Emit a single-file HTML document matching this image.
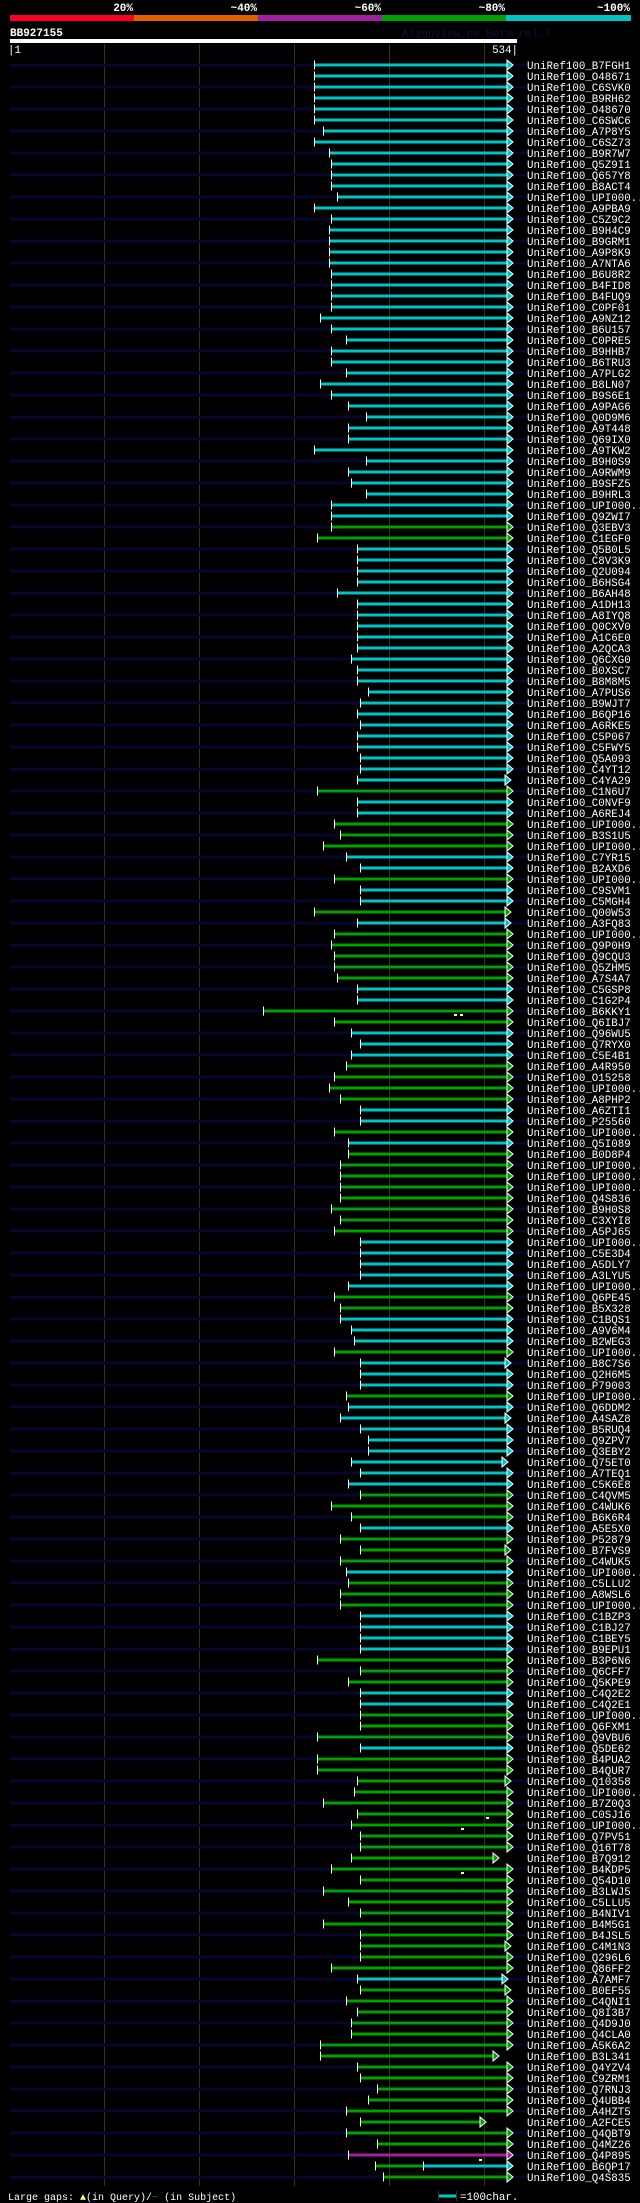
<!DOCTYPE html>
<html><head><meta charset="utf-8"><style>
html,body{margin:0;padding:0;background:#000;}
svg{display:block}
text{font-family:"Liberation Mono",monospace;font-size:10.8px;fill:#fff}
.b{font-family:"Liberation Mono",monospace;font-weight:bold;font-size:11px}
line.n{stroke:#06062e;stroke-width:3}
line.c{stroke:#00c4c4;stroke-width:3}
line.g{stroke:#00a000;stroke-width:3}
line.m{stroke:#a020a0;stroke-width:3}
line.t{stroke:#fff;stroke-width:1}
use.c{fill:#00c4c4} use.g{fill:#00a000} use.m{fill:#a020a0}
.gr{stroke:#363610;stroke-width:1}
</style></head><body>
<svg width="640" height="2203" viewBox="0 0 640 2203" xmlns="http://www.w3.org/2000/svg">
<defs><polygon id="a" points="0,-5 6,0 0,5" stroke="#fff" stroke-width="1"/></defs>
<rect width="640" height="2203" fill="#000"/>
<text class="b" x="133" y="11" text-anchor="end">20%</text>
<text class="b" x="257" y="11" text-anchor="end">~40%</text>
<text class="b" x="381" y="11" text-anchor="end">~60%</text>
<text class="b" x="505" y="11" text-anchor="end">~80%</text>
<text class="b" x="630" y="11" text-anchor="end">~100%</text>
<rect x="10" y="15" width="124" height="6" fill="#ff0020"/>
<rect x="134" y="15" width="124" height="6" fill="#e06000"/>
<rect x="258" y="15" width="124" height="6" fill="#a020a0"/>
<rect x="382" y="15" width="124" height="6" fill="#00a000"/>
<rect x="506" y="15" width="125" height="6" fill="#00c4c4"/>
<text class="b" x="10" y="36">BB927155</text>
<text x="402" y="37" style="fill:#101040">AlignView.pm Beta rel.7</text>
<rect x="10" y="39" width="507" height="4" fill="#fff"/>
<text x="8" y="53">|1</text>
<text x="518" y="53" text-anchor="end">534|</text>
<line class="gr" x1="104.5" y1="44" x2="104.5" y2="2186"/>
<line class="gr" x1="199.5" y1="44" x2="199.5" y2="2186"/>
<line class="gr" x1="294.5" y1="44" x2="294.5" y2="2186"/>
<line class="gr" x1="389.5" y1="44" x2="389.5" y2="2186"/>
<line class="gr" x1="484.5" y1="44" x2="484.5" y2="2186"/>
<g transform="translate(0,65)"><line class="n" x1="10" x2="527"/><line class="c" x1="314.3" x2="507"/><line class="t" x1="314.5" x2="314.5" y1="-4.5" y2="4.5"/><use href="#a" x="507" class="c"/><text x="527" y="4">UniRef100_B7FGH1</text></g>
<g transform="translate(0,76)"><line class="c" x1="314.3" x2="507"/><line class="t" x1="314.5" x2="314.5" y1="-4.5" y2="4.5"/><use href="#a" x="507" class="c"/><text x="527" y="4">UniRef100_O48671</text></g>
<g transform="translate(0,87)"><line class="n" x1="10" x2="527"/><line class="c" x1="314.3" x2="507"/><line class="t" x1="314.5" x2="314.5" y1="-4.5" y2="4.5"/><use href="#a" x="507" class="c"/><text x="527" y="4">UniRef100_C6SVK0</text></g>
<g transform="translate(0,98)"><line class="c" x1="314.3" x2="507"/><line class="t" x1="314.5" x2="314.5" y1="-4.5" y2="4.5"/><use href="#a" x="507" class="c"/><text x="527" y="4">UniRef100_B9RH62</text></g>
<g transform="translate(0,109)"><line class="n" x1="10" x2="527"/><line class="c" x1="314.3" x2="507"/><line class="t" x1="314.5" x2="314.5" y1="-4.5" y2="4.5"/><use href="#a" x="507" class="c"/><text x="527" y="4">UniRef100_O48670</text></g>
<g transform="translate(0,120)"><line class="c" x1="314.3" x2="507"/><line class="t" x1="314.5" x2="314.5" y1="-4.5" y2="4.5"/><use href="#a" x="507" class="c"/><text x="527" y="4">UniRef100_C6SWC6</text></g>
<g transform="translate(0,131)"><line class="n" x1="10" x2="527"/><line class="c" x1="323.3" x2="507"/><line class="t" x1="323.5" x2="323.5" y1="-4.5" y2="4.5"/><use href="#a" x="507" class="c"/><text x="527" y="4">UniRef100_A7P8Y5</text></g>
<g transform="translate(0,142)"><line class="c" x1="314.3" x2="507"/><line class="t" x1="314.5" x2="314.5" y1="-4.5" y2="4.5"/><use href="#a" x="507" class="c"/><text x="527" y="4">UniRef100_C6SZ73</text></g>
<g transform="translate(0,153)"><line class="n" x1="10" x2="527"/><line class="c" x1="329.3" x2="507"/><line class="t" x1="329.5" x2="329.5" y1="-4.5" y2="4.5"/><use href="#a" x="507" class="c"/><text x="527" y="4">UniRef100_B9R7W7</text></g>
<g transform="translate(0,164)"><line class="c" x1="331.3" x2="507"/><line class="t" x1="331.5" x2="331.5" y1="-4.5" y2="4.5"/><use href="#a" x="507" class="c"/><text x="527" y="4">UniRef100_Q5Z9I1</text></g>
<g transform="translate(0,175)"><line class="n" x1="10" x2="527"/><line class="c" x1="331.3" x2="507"/><line class="t" x1="331.5" x2="331.5" y1="-4.5" y2="4.5"/><use href="#a" x="507" class="c"/><text x="527" y="4">UniRef100_Q657Y8</text></g>
<g transform="translate(0,186)"><line class="c" x1="331.3" x2="507"/><line class="t" x1="331.5" x2="331.5" y1="-4.5" y2="4.5"/><use href="#a" x="507" class="c"/><text x="527" y="4">UniRef100_B8ACT4</text></g>
<g transform="translate(0,197)"><line class="n" x1="10" x2="527"/><line class="c" x1="337.3" x2="507"/><line class="t" x1="337.5" x2="337.5" y1="-4.5" y2="4.5"/><use href="#a" x="507" class="c"/><text x="527" y="4">UniRef100_UPI000..</text></g>
<g transform="translate(0,208)"><line class="c" x1="314.3" x2="507"/><line class="t" x1="314.5" x2="314.5" y1="-4.5" y2="4.5"/><use href="#a" x="507" class="c"/><text x="527" y="4">UniRef100_A9PBA9</text></g>
<g transform="translate(0,219)"><line class="n" x1="10" x2="527"/><line class="c" x1="331.3" x2="507"/><line class="t" x1="331.5" x2="331.5" y1="-4.5" y2="4.5"/><use href="#a" x="507" class="c"/><text x="527" y="4">UniRef100_C5Z9C2</text></g>
<g transform="translate(0,230)"><line class="c" x1="329.3" x2="507"/><line class="t" x1="329.5" x2="329.5" y1="-4.5" y2="4.5"/><use href="#a" x="507" class="c"/><text x="527" y="4">UniRef100_B9H4C9</text></g>
<g transform="translate(0,241)"><line class="n" x1="10" x2="527"/><line class="c" x1="329.3" x2="507"/><line class="t" x1="329.5" x2="329.5" y1="-4.5" y2="4.5"/><use href="#a" x="507" class="c"/><text x="527" y="4">UniRef100_B9GRM1</text></g>
<g transform="translate(0,252)"><line class="c" x1="329.3" x2="507"/><line class="t" x1="329.5" x2="329.5" y1="-4.5" y2="4.5"/><use href="#a" x="507" class="c"/><text x="527" y="4">UniRef100_A9P8K9</text></g>
<g transform="translate(0,263)"><line class="n" x1="10" x2="527"/><line class="c" x1="329.3" x2="507"/><line class="t" x1="329.5" x2="329.5" y1="-4.5" y2="4.5"/><use href="#a" x="507" class="c"/><text x="527" y="4">UniRef100_A7NTA6</text></g>
<g transform="translate(0,274)"><line class="c" x1="331.3" x2="507"/><line class="t" x1="331.5" x2="331.5" y1="-4.5" y2="4.5"/><use href="#a" x="507" class="c"/><text x="527" y="4">UniRef100_B6U8R2</text></g>
<g transform="translate(0,285)"><line class="n" x1="10" x2="527"/><line class="c" x1="331.3" x2="507"/><line class="t" x1="331.5" x2="331.5" y1="-4.5" y2="4.5"/><use href="#a" x="507" class="c"/><text x="527" y="4">UniRef100_B4FID8</text></g>
<g transform="translate(0,296)"><line class="c" x1="331.3" x2="507"/><line class="t" x1="331.5" x2="331.5" y1="-4.5" y2="4.5"/><use href="#a" x="507" class="c"/><text x="527" y="4">UniRef100_B4FUQ9</text></g>
<g transform="translate(0,307)"><line class="n" x1="10" x2="527"/><line class="c" x1="331.3" x2="507"/><line class="t" x1="331.5" x2="331.5" y1="-4.5" y2="4.5"/><use href="#a" x="507" class="c"/><text x="527" y="4">UniRef100_C0PF01</text></g>
<g transform="translate(0,318)"><line class="c" x1="320.3" x2="507"/><line class="t" x1="320.5" x2="320.5" y1="-4.5" y2="4.5"/><use href="#a" x="507" class="c"/><text x="527" y="4">UniRef100_A9NZ12</text></g>
<g transform="translate(0,329)"><line class="n" x1="10" x2="527"/><line class="c" x1="331.3" x2="507"/><line class="t" x1="331.5" x2="331.5" y1="-4.5" y2="4.5"/><use href="#a" x="507" class="c"/><text x="527" y="4">UniRef100_B6U157</text></g>
<g transform="translate(0,340)"><line class="c" x1="346.3" x2="507"/><line class="t" x1="346.5" x2="346.5" y1="-4.5" y2="4.5"/><use href="#a" x="507" class="c"/><text x="527" y="4">UniRef100_C0PRE5</text></g>
<g transform="translate(0,351)"><line class="n" x1="10" x2="527"/><line class="c" x1="331.3" x2="507"/><line class="t" x1="331.5" x2="331.5" y1="-4.5" y2="4.5"/><use href="#a" x="507" class="c"/><text x="527" y="4">UniRef100_B9HHB7</text></g>
<g transform="translate(0,362)"><line class="c" x1="331.3" x2="507"/><line class="t" x1="331.5" x2="331.5" y1="-4.5" y2="4.5"/><use href="#a" x="507" class="c"/><text x="527" y="4">UniRef100_B6TRU3</text></g>
<g transform="translate(0,373)"><line class="n" x1="10" x2="527"/><line class="c" x1="346.3" x2="507"/><line class="t" x1="346.5" x2="346.5" y1="-4.5" y2="4.5"/><use href="#a" x="507" class="c"/><text x="527" y="4">UniRef100_A7PLG2</text></g>
<g transform="translate(0,384)"><line class="c" x1="320.3" x2="507"/><line class="t" x1="320.5" x2="320.5" y1="-4.5" y2="4.5"/><use href="#a" x="507" class="c"/><text x="527" y="4">UniRef100_B8LN07</text></g>
<g transform="translate(0,395)"><line class="n" x1="10" x2="527"/><line class="c" x1="331.3" x2="507"/><line class="t" x1="331.5" x2="331.5" y1="-4.5" y2="4.5"/><use href="#a" x="507" class="c"/><text x="527" y="4">UniRef100_B9S6E1</text></g>
<g transform="translate(0,406)"><line class="c" x1="348.3" x2="507"/><line class="t" x1="348.5" x2="348.5" y1="-4.5" y2="4.5"/><use href="#a" x="507" class="c"/><text x="527" y="4">UniRef100_A9PAG6</text></g>
<g transform="translate(0,417)"><line class="n" x1="10" x2="527"/><line class="c" x1="366.3" x2="507"/><line class="t" x1="366.5" x2="366.5" y1="-4.5" y2="4.5"/><use href="#a" x="507" class="c"/><text x="527" y="4">UniRef100_Q0D9M6</text></g>
<g transform="translate(0,428)"><line class="c" x1="348.3" x2="507"/><line class="t" x1="348.5" x2="348.5" y1="-4.5" y2="4.5"/><use href="#a" x="507" class="c"/><text x="527" y="4">UniRef100_A9T448</text></g>
<g transform="translate(0,439)"><line class="n" x1="10" x2="527"/><line class="c" x1="348.3" x2="507"/><line class="t" x1="348.5" x2="348.5" y1="-4.5" y2="4.5"/><use href="#a" x="507" class="c"/><text x="527" y="4">UniRef100_Q69IX0</text></g>
<g transform="translate(0,450)"><line class="c" x1="314.3" x2="507"/><line class="t" x1="314.5" x2="314.5" y1="-4.5" y2="4.5"/><use href="#a" x="507" class="c"/><text x="527" y="4">UniRef100_A9TKW2</text></g>
<g transform="translate(0,461)"><line class="n" x1="10" x2="527"/><line class="c" x1="366.3" x2="507"/><line class="t" x1="366.5" x2="366.5" y1="-4.5" y2="4.5"/><use href="#a" x="507" class="c"/><text x="527" y="4">UniRef100_B9H0S9</text></g>
<g transform="translate(0,472)"><line class="c" x1="348.3" x2="507"/><line class="t" x1="348.5" x2="348.5" y1="-4.5" y2="4.5"/><use href="#a" x="507" class="c"/><text x="527" y="4">UniRef100_A9RWM9</text></g>
<g transform="translate(0,483)"><line class="n" x1="10" x2="527"/><line class="c" x1="351.3" x2="507"/><line class="t" x1="351.5" x2="351.5" y1="-4.5" y2="4.5"/><use href="#a" x="507" class="c"/><text x="527" y="4">UniRef100_B9SFZ5</text></g>
<g transform="translate(0,494)"><line class="c" x1="366.3" x2="507"/><line class="t" x1="366.5" x2="366.5" y1="-4.5" y2="4.5"/><use href="#a" x="507" class="c"/><text x="527" y="4">UniRef100_B9HRL3</text></g>
<g transform="translate(0,505)"><line class="n" x1="10" x2="527"/><line class="c" x1="331.3" x2="507"/><line class="t" x1="331.5" x2="331.5" y1="-4.5" y2="4.5"/><use href="#a" x="507" class="c"/><text x="527" y="4">UniRef100_UPI000..</text></g>
<g transform="translate(0,516)"><line class="c" x1="331.3" x2="507"/><line class="t" x1="331.5" x2="331.5" y1="-4.5" y2="4.5"/><use href="#a" x="507" class="c"/><text x="527" y="4">UniRef100_Q9ZWI7</text></g>
<g transform="translate(0,527)"><line class="n" x1="10" x2="527"/><line class="g" x1="331.3" x2="507"/><line class="t" x1="331.5" x2="331.5" y1="-4.5" y2="4.5"/><use href="#a" x="507" class="g"/><text x="527" y="4">UniRef100_Q3EBV3</text></g>
<g transform="translate(0,538)"><line class="g" x1="317.3" x2="507"/><line class="t" x1="317.5" x2="317.5" y1="-4.5" y2="4.5"/><use href="#a" x="507" class="g"/><text x="527" y="4">UniRef100_C1EGF0</text></g>
<g transform="translate(0,549)"><line class="n" x1="10" x2="527"/><line class="c" x1="357.3" x2="507"/><line class="t" x1="357.5" x2="357.5" y1="-4.5" y2="4.5"/><use href="#a" x="507" class="c"/><text x="527" y="4">UniRef100_Q5B0L5</text></g>
<g transform="translate(0,560)"><line class="c" x1="357.3" x2="507"/><line class="t" x1="357.5" x2="357.5" y1="-4.5" y2="4.5"/><use href="#a" x="507" class="c"/><text x="527" y="4">UniRef100_C8V3K9</text></g>
<g transform="translate(0,571)"><line class="n" x1="10" x2="527"/><line class="c" x1="357.3" x2="507"/><line class="t" x1="357.5" x2="357.5" y1="-4.5" y2="4.5"/><use href="#a" x="507" class="c"/><text x="527" y="4">UniRef100_Q2U094</text></g>
<g transform="translate(0,582)"><line class="c" x1="357.3" x2="507"/><line class="t" x1="357.5" x2="357.5" y1="-4.5" y2="4.5"/><use href="#a" x="507" class="c"/><text x="527" y="4">UniRef100_B6HSG4</text></g>
<g transform="translate(0,593)"><line class="n" x1="10" x2="527"/><line class="c" x1="337.3" x2="507"/><line class="t" x1="337.5" x2="337.5" y1="-4.5" y2="4.5"/><use href="#a" x="507" class="c"/><text x="527" y="4">UniRef100_B6AH48</text></g>
<g transform="translate(0,604)"><line class="c" x1="357.3" x2="507"/><line class="t" x1="357.5" x2="357.5" y1="-4.5" y2="4.5"/><use href="#a" x="507" class="c"/><text x="527" y="4">UniRef100_A1DH13</text></g>
<g transform="translate(0,615)"><line class="n" x1="10" x2="527"/><line class="c" x1="357.3" x2="507"/><line class="t" x1="357.5" x2="357.5" y1="-4.5" y2="4.5"/><use href="#a" x="507" class="c"/><text x="527" y="4">UniRef100_A8IYQ8</text></g>
<g transform="translate(0,626)"><line class="c" x1="357.3" x2="507"/><line class="t" x1="357.5" x2="357.5" y1="-4.5" y2="4.5"/><use href="#a" x="507" class="c"/><text x="527" y="4">UniRef100_Q0CXV0</text></g>
<g transform="translate(0,637)"><line class="n" x1="10" x2="527"/><line class="c" x1="357.3" x2="507"/><line class="t" x1="357.5" x2="357.5" y1="-4.5" y2="4.5"/><use href="#a" x="507" class="c"/><text x="527" y="4">UniRef100_A1C6E0</text></g>
<g transform="translate(0,648)"><line class="c" x1="357.3" x2="507"/><line class="t" x1="357.5" x2="357.5" y1="-4.5" y2="4.5"/><use href="#a" x="507" class="c"/><text x="527" y="4">UniRef100_A2QCA3</text></g>
<g transform="translate(0,659)"><line class="n" x1="10" x2="527"/><line class="c" x1="351.3" x2="507"/><line class="t" x1="351.5" x2="351.5" y1="-4.5" y2="4.5"/><use href="#a" x="507" class="c"/><text x="527" y="4">UniRef100_Q6CXG0</text></g>
<g transform="translate(0,670)"><line class="c" x1="357.3" x2="507"/><line class="t" x1="357.5" x2="357.5" y1="-4.5" y2="4.5"/><use href="#a" x="507" class="c"/><text x="527" y="4">UniRef100_B0XSC7</text></g>
<g transform="translate(0,681)"><line class="n" x1="10" x2="527"/><line class="c" x1="357.3" x2="507"/><line class="t" x1="357.5" x2="357.5" y1="-4.5" y2="4.5"/><use href="#a" x="507" class="c"/><text x="527" y="4">UniRef100_B8M8M5</text></g>
<g transform="translate(0,692)"><line class="c" x1="368.3" x2="507"/><line class="t" x1="368.5" x2="368.5" y1="-4.5" y2="4.5"/><use href="#a" x="507" class="c"/><text x="527" y="4">UniRef100_A7PUS6</text></g>
<g transform="translate(0,703)"><line class="n" x1="10" x2="527"/><line class="c" x1="360.3" x2="507"/><line class="t" x1="360.5" x2="360.5" y1="-4.5" y2="4.5"/><use href="#a" x="507" class="c"/><text x="527" y="4">UniRef100_B9WJT7</text></g>
<g transform="translate(0,714)"><line class="c" x1="357.3" x2="507"/><line class="t" x1="357.5" x2="357.5" y1="-4.5" y2="4.5"/><use href="#a" x="507" class="c"/><text x="527" y="4">UniRef100_B6QP16</text></g>
<g transform="translate(0,725)"><line class="n" x1="10" x2="527"/><line class="c" x1="360.3" x2="507"/><line class="t" x1="360.5" x2="360.5" y1="-4.5" y2="4.5"/><use href="#a" x="507" class="c"/><text x="527" y="4">UniRef100_A6RKE5</text></g>
<g transform="translate(0,736)"><line class="c" x1="357.3" x2="507"/><line class="t" x1="357.5" x2="357.5" y1="-4.5" y2="4.5"/><use href="#a" x="507" class="c"/><text x="527" y="4">UniRef100_C5P067</text></g>
<g transform="translate(0,747)"><line class="n" x1="10" x2="527"/><line class="c" x1="357.3" x2="507"/><line class="t" x1="357.5" x2="357.5" y1="-4.5" y2="4.5"/><use href="#a" x="507" class="c"/><text x="527" y="4">UniRef100_C5FWY5</text></g>
<g transform="translate(0,758)"><line class="c" x1="360.3" x2="507"/><line class="t" x1="360.5" x2="360.5" y1="-4.5" y2="4.5"/><use href="#a" x="507" class="c"/><text x="527" y="4">UniRef100_Q5A093</text></g>
<g transform="translate(0,769)"><line class="n" x1="10" x2="527"/><line class="c" x1="360.3" x2="507"/><line class="t" x1="360.5" x2="360.5" y1="-4.5" y2="4.5"/><use href="#a" x="507" class="c"/><text x="527" y="4">UniRef100_C4YT12</text></g>
<g transform="translate(0,780)"><line class="c" x1="357.3" x2="505"/><line class="t" x1="357.5" x2="357.5" y1="-4.5" y2="4.5"/><use href="#a" x="505" class="c"/><text x="527" y="4">UniRef100_C4YA29</text></g>
<g transform="translate(0,791)"><line class="n" x1="10" x2="527"/><line class="g" x1="317.3" x2="507"/><line class="t" x1="317.5" x2="317.5" y1="-4.5" y2="4.5"/><use href="#a" x="507" class="g"/><text x="527" y="4">UniRef100_C1N6U7</text></g>
<g transform="translate(0,802)"><line class="c" x1="357.3" x2="507"/><line class="t" x1="357.5" x2="357.5" y1="-4.5" y2="4.5"/><use href="#a" x="507" class="c"/><text x="527" y="4">UniRef100_C0NVF9</text></g>
<g transform="translate(0,813)"><line class="n" x1="10" x2="527"/><line class="c" x1="357.3" x2="507"/><line class="t" x1="357.5" x2="357.5" y1="-4.5" y2="4.5"/><use href="#a" x="507" class="c"/><text x="527" y="4">UniRef100_A6REJ4</text></g>
<g transform="translate(0,824)"><line class="g" x1="334.3" x2="507"/><line class="t" x1="334.5" x2="334.5" y1="-4.5" y2="4.5"/><use href="#a" x="507" class="g"/><text x="527" y="4">UniRef100_UPI000..</text></g>
<g transform="translate(0,835)"><line class="n" x1="10" x2="527"/><line class="g" x1="340.3" x2="507"/><line class="t" x1="340.5" x2="340.5" y1="-4.5" y2="4.5"/><use href="#a" x="507" class="g"/><text x="527" y="4">UniRef100_B3S1U5</text></g>
<g transform="translate(0,846)"><line class="g" x1="323.3" x2="507"/><line class="t" x1="323.5" x2="323.5" y1="-4.5" y2="4.5"/><use href="#a" x="507" class="g"/><text x="527" y="4">UniRef100_UPI000..</text></g>
<g transform="translate(0,857)"><line class="n" x1="10" x2="527"/><line class="c" x1="346.3" x2="507"/><line class="t" x1="346.5" x2="346.5" y1="-4.5" y2="4.5"/><use href="#a" x="507" class="c"/><text x="527" y="4">UniRef100_C7YR15</text></g>
<g transform="translate(0,868)"><line class="c" x1="360.3" x2="507"/><line class="t" x1="360.5" x2="360.5" y1="-4.5" y2="4.5"/><use href="#a" x="507" class="c"/><text x="527" y="4">UniRef100_B2AXD6</text></g>
<g transform="translate(0,879)"><line class="n" x1="10" x2="527"/><line class="g" x1="334.3" x2="507"/><line class="t" x1="334.5" x2="334.5" y1="-4.5" y2="4.5"/><use href="#a" x="507" class="g"/><text x="527" y="4">UniRef100_UPI000..</text></g>
<g transform="translate(0,890)"><line class="c" x1="360.3" x2="507"/><line class="t" x1="360.5" x2="360.5" y1="-4.5" y2="4.5"/><use href="#a" x="507" class="c"/><text x="527" y="4">UniRef100_C9SVM1</text></g>
<g transform="translate(0,901)"><line class="n" x1="10" x2="527"/><line class="c" x1="360.3" x2="507"/><line class="t" x1="360.5" x2="360.5" y1="-4.5" y2="4.5"/><use href="#a" x="507" class="c"/><text x="527" y="4">UniRef100_C5MGH4</text></g>
<g transform="translate(0,912)"><line class="g" x1="314.3" x2="505"/><line class="t" x1="314.5" x2="314.5" y1="-4.5" y2="4.5"/><use href="#a" x="505" class="g"/><text x="527" y="4">UniRef100_Q00W53</text></g>
<g transform="translate(0,923)"><line class="n" x1="10" x2="527"/><line class="c" x1="357.3" x2="505"/><line class="t" x1="357.5" x2="357.5" y1="-4.5" y2="4.5"/><use href="#a" x="505" class="c"/><text x="527" y="4">UniRef100_A3FQ83</text></g>
<g transform="translate(0,934)"><line class="g" x1="334.3" x2="507"/><line class="t" x1="334.5" x2="334.5" y1="-4.5" y2="4.5"/><use href="#a" x="507" class="g"/><text x="527" y="4">UniRef100_UPI000..</text></g>
<g transform="translate(0,945)"><line class="n" x1="10" x2="527"/><line class="g" x1="331.3" x2="507"/><line class="t" x1="331.5" x2="331.5" y1="-4.5" y2="4.5"/><use href="#a" x="507" class="g"/><text x="527" y="4">UniRef100_Q9P0H9</text></g>
<g transform="translate(0,956)"><line class="g" x1="334.3" x2="507"/><line class="t" x1="334.5" x2="334.5" y1="-4.5" y2="4.5"/><use href="#a" x="507" class="g"/><text x="527" y="4">UniRef100_Q9CQU3</text></g>
<g transform="translate(0,967)"><line class="n" x1="10" x2="527"/><line class="g" x1="334.3" x2="507"/><line class="t" x1="334.5" x2="334.5" y1="-4.5" y2="4.5"/><use href="#a" x="507" class="g"/><text x="527" y="4">UniRef100_Q5ZHM5</text></g>
<g transform="translate(0,978)"><line class="g" x1="337.3" x2="507"/><line class="t" x1="337.5" x2="337.5" y1="-4.5" y2="4.5"/><use href="#a" x="507" class="g"/><text x="527" y="4">UniRef100_A7S4A7</text></g>
<g transform="translate(0,989)"><line class="n" x1="10" x2="527"/><line class="c" x1="357.3" x2="507"/><line class="t" x1="357.5" x2="357.5" y1="-4.5" y2="4.5"/><use href="#a" x="507" class="c"/><text x="527" y="4">UniRef100_C5GSP8</text></g>
<g transform="translate(0,1000)"><line class="c" x1="357.3" x2="507"/><line class="t" x1="357.5" x2="357.5" y1="-4.5" y2="4.5"/><use href="#a" x="507" class="c"/><text x="527" y="4">UniRef100_C1G2P4</text></g>
<g transform="translate(0,1011)"><line class="n" x1="10" x2="527"/><line class="g" x1="263.3" x2="507"/><line class="t" x1="263.5" x2="263.5" y1="-4.5" y2="4.5"/><use href="#a" x="507" class="g"/><rect x="454" y="3" width="3" height="2" fill="#ffff80"/><rect x="460" y="3" width="3" height="2" fill="#ffff80"/><text x="527" y="4">UniRef100_B6KKY1</text></g>
<g transform="translate(0,1022)"><line class="g" x1="334.3" x2="507"/><line class="t" x1="334.5" x2="334.5" y1="-4.5" y2="4.5"/><use href="#a" x="507" class="g"/><text x="527" y="4">UniRef100_Q6IBJ7</text></g>
<g transform="translate(0,1033)"><line class="n" x1="10" x2="527"/><line class="c" x1="351.3" x2="507"/><line class="t" x1="351.5" x2="351.5" y1="-4.5" y2="4.5"/><use href="#a" x="507" class="c"/><text x="527" y="4">UniRef100_Q96WU5</text></g>
<g transform="translate(0,1044)"><line class="c" x1="360.3" x2="507"/><line class="t" x1="360.5" x2="360.5" y1="-4.5" y2="4.5"/><use href="#a" x="507" class="c"/><text x="527" y="4">UniRef100_Q7RYX0</text></g>
<g transform="translate(0,1055)"><line class="n" x1="10" x2="527"/><line class="c" x1="351.3" x2="507"/><line class="t" x1="351.5" x2="351.5" y1="-4.5" y2="4.5"/><use href="#a" x="507" class="c"/><text x="527" y="4">UniRef100_C5E4B1</text></g>
<g transform="translate(0,1066)"><line class="g" x1="346.3" x2="507"/><line class="t" x1="346.5" x2="346.5" y1="-4.5" y2="4.5"/><use href="#a" x="507" class="g"/><text x="527" y="4">UniRef100_A4R950</text></g>
<g transform="translate(0,1077)"><line class="n" x1="10" x2="527"/><line class="g" x1="334.3" x2="507"/><line class="t" x1="334.5" x2="334.5" y1="-4.5" y2="4.5"/><use href="#a" x="507" class="g"/><text x="527" y="4">UniRef100_O15258</text></g>
<g transform="translate(0,1088)"><line class="g" x1="329.3" x2="507"/><line class="t" x1="329.5" x2="329.5" y1="-4.5" y2="4.5"/><use href="#a" x="507" class="g"/><text x="527" y="4">UniRef100_UPI000..</text></g>
<g transform="translate(0,1099)"><line class="n" x1="10" x2="527"/><line class="g" x1="340.3" x2="507"/><line class="t" x1="340.5" x2="340.5" y1="-4.5" y2="4.5"/><use href="#a" x="507" class="g"/><text x="527" y="4">UniRef100_A8PHP2</text></g>
<g transform="translate(0,1110)"><line class="c" x1="360.3" x2="507"/><line class="t" x1="360.5" x2="360.5" y1="-4.5" y2="4.5"/><use href="#a" x="507" class="c"/><text x="527" y="4">UniRef100_A6ZTI1</text></g>
<g transform="translate(0,1121)"><line class="n" x1="10" x2="527"/><line class="c" x1="360.3" x2="507"/><line class="t" x1="360.5" x2="360.5" y1="-4.5" y2="4.5"/><use href="#a" x="507" class="c"/><text x="527" y="4">UniRef100_P25560</text></g>
<g transform="translate(0,1132)"><line class="g" x1="334.3" x2="507"/><line class="t" x1="334.5" x2="334.5" y1="-4.5" y2="4.5"/><use href="#a" x="507" class="g"/><text x="527" y="4">UniRef100_UPI000..</text></g>
<g transform="translate(0,1143)"><line class="n" x1="10" x2="527"/><line class="c" x1="348.3" x2="507"/><line class="t" x1="348.5" x2="348.5" y1="-4.5" y2="4.5"/><use href="#a" x="507" class="c"/><text x="527" y="4">UniRef100_Q5I089</text></g>
<g transform="translate(0,1154)"><line class="g" x1="348.3" x2="507"/><line class="t" x1="348.5" x2="348.5" y1="-4.5" y2="4.5"/><use href="#a" x="507" class="g"/><text x="527" y="4">UniRef100_B0D8P4</text></g>
<g transform="translate(0,1165)"><line class="n" x1="10" x2="527"/><line class="g" x1="340.3" x2="507"/><line class="t" x1="340.5" x2="340.5" y1="-4.5" y2="4.5"/><use href="#a" x="507" class="g"/><text x="527" y="4">UniRef100_UPI000..</text></g>
<g transform="translate(0,1176)"><line class="g" x1="340.3" x2="507"/><line class="t" x1="340.5" x2="340.5" y1="-4.5" y2="4.5"/><use href="#a" x="507" class="g"/><text x="527" y="4">UniRef100_UPI000..</text></g>
<g transform="translate(0,1187)"><line class="n" x1="10" x2="527"/><line class="g" x1="340.3" x2="507"/><line class="t" x1="340.5" x2="340.5" y1="-4.5" y2="4.5"/><use href="#a" x="507" class="g"/><text x="527" y="4">UniRef100_UPI000..</text></g>
<g transform="translate(0,1198)"><line class="g" x1="340.3" x2="507"/><line class="t" x1="340.5" x2="340.5" y1="-4.5" y2="4.5"/><use href="#a" x="507" class="g"/><text x="527" y="4">UniRef100_Q4S836</text></g>
<g transform="translate(0,1209)"><line class="n" x1="10" x2="527"/><line class="g" x1="331.3" x2="507"/><line class="t" x1="331.5" x2="331.5" y1="-4.5" y2="4.5"/><use href="#a" x="507" class="g"/><text x="527" y="4">UniRef100_B9H0S8</text></g>
<g transform="translate(0,1220)"><line class="g" x1="340.3" x2="507"/><line class="t" x1="340.5" x2="340.5" y1="-4.5" y2="4.5"/><use href="#a" x="507" class="g"/><text x="527" y="4">UniRef100_C3XYI8</text></g>
<g transform="translate(0,1231)"><line class="n" x1="10" x2="527"/><line class="g" x1="334.3" x2="507"/><line class="t" x1="334.5" x2="334.5" y1="-4.5" y2="4.5"/><use href="#a" x="507" class="g"/><text x="527" y="4">UniRef100_A5PJ65</text></g>
<g transform="translate(0,1242)"><line class="c" x1="360.3" x2="507"/><line class="t" x1="360.5" x2="360.5" y1="-4.5" y2="4.5"/><use href="#a" x="507" class="c"/><text x="527" y="4">UniRef100_UPI000..</text></g>
<g transform="translate(0,1253)"><line class="n" x1="10" x2="527"/><line class="c" x1="360.3" x2="507"/><line class="t" x1="360.5" x2="360.5" y1="-4.5" y2="4.5"/><use href="#a" x="507" class="c"/><text x="527" y="4">UniRef100_C5E3D4</text></g>
<g transform="translate(0,1264)"><line class="c" x1="360.3" x2="507"/><line class="t" x1="360.5" x2="360.5" y1="-4.5" y2="4.5"/><use href="#a" x="507" class="c"/><text x="527" y="4">UniRef100_A5DLY7</text></g>
<g transform="translate(0,1275)"><line class="n" x1="10" x2="527"/><line class="c" x1="360.3" x2="507"/><line class="t" x1="360.5" x2="360.5" y1="-4.5" y2="4.5"/><use href="#a" x="507" class="c"/><text x="527" y="4">UniRef100_A3LYU5</text></g>
<g transform="translate(0,1286)"><line class="c" x1="348.3" x2="507"/><line class="t" x1="348.5" x2="348.5" y1="-4.5" y2="4.5"/><use href="#a" x="507" class="c"/><text x="527" y="4">UniRef100_UPI000..</text></g>
<g transform="translate(0,1297)"><line class="n" x1="10" x2="527"/><line class="g" x1="334.3" x2="507"/><line class="t" x1="334.5" x2="334.5" y1="-4.5" y2="4.5"/><use href="#a" x="507" class="g"/><text x="527" y="4">UniRef100_Q6PE45</text></g>
<g transform="translate(0,1308)"><line class="g" x1="340.3" x2="507"/><line class="t" x1="340.5" x2="340.5" y1="-4.5" y2="4.5"/><use href="#a" x="507" class="g"/><text x="527" y="4">UniRef100_B5X328</text></g>
<g transform="translate(0,1319)"><line class="n" x1="10" x2="527"/><line class="c" x1="340.3" x2="507"/><line class="t" x1="340.5" x2="340.5" y1="-4.5" y2="4.5"/><use href="#a" x="507" class="c"/><text x="527" y="4">UniRef100_C1BQS1</text></g>
<g transform="translate(0,1330)"><line class="c" x1="351.3" x2="507"/><line class="t" x1="351.5" x2="351.5" y1="-4.5" y2="4.5"/><use href="#a" x="507" class="c"/><text x="527" y="4">UniRef100_A9V6M4</text></g>
<g transform="translate(0,1341)"><line class="n" x1="10" x2="527"/><line class="c" x1="354.3" x2="507"/><line class="t" x1="354.5" x2="354.5" y1="-4.5" y2="4.5"/><use href="#a" x="507" class="c"/><text x="527" y="4">UniRef100_B2WEG3</text></g>
<g transform="translate(0,1352)"><line class="g" x1="334.3" x2="507"/><line class="t" x1="334.5" x2="334.5" y1="-4.5" y2="4.5"/><use href="#a" x="507" class="g"/><text x="527" y="4">UniRef100_UPI000..</text></g>
<g transform="translate(0,1363)"><line class="n" x1="10" x2="527"/><line class="c" x1="360.3" x2="505"/><line class="t" x1="360.5" x2="360.5" y1="-4.5" y2="4.5"/><use href="#a" x="505" class="c"/><text x="527" y="4">UniRef100_B8C7S6</text></g>
<g transform="translate(0,1374)"><line class="c" x1="360.3" x2="507"/><line class="t" x1="360.5" x2="360.5" y1="-4.5" y2="4.5"/><use href="#a" x="507" class="c"/><text x="527" y="4">UniRef100_Q2H6M5</text></g>
<g transform="translate(0,1385)"><line class="n" x1="10" x2="527"/><line class="c" x1="360.3" x2="507"/><line class="t" x1="360.5" x2="360.5" y1="-4.5" y2="4.5"/><use href="#a" x="507" class="c"/><text x="527" y="4">UniRef100_P79003</text></g>
<g transform="translate(0,1396)"><line class="g" x1="346.3" x2="507"/><line class="t" x1="346.5" x2="346.5" y1="-4.5" y2="4.5"/><use href="#a" x="507" class="g"/><text x="527" y="4">UniRef100_UPI000..</text></g>
<g transform="translate(0,1407)"><line class="n" x1="10" x2="527"/><line class="c" x1="348.3" x2="507"/><line class="t" x1="348.5" x2="348.5" y1="-4.5" y2="4.5"/><use href="#a" x="507" class="c"/><text x="527" y="4">UniRef100_Q6DDM2</text></g>
<g transform="translate(0,1418)"><line class="c" x1="340.3" x2="505"/><line class="t" x1="340.5" x2="340.5" y1="-4.5" y2="4.5"/><use href="#a" x="505" class="c"/><text x="527" y="4">UniRef100_A4SAZ8</text></g>
<g transform="translate(0,1429)"><line class="n" x1="10" x2="527"/><line class="c" x1="360.3" x2="507"/><line class="t" x1="360.5" x2="360.5" y1="-4.5" y2="4.5"/><use href="#a" x="507" class="c"/><text x="527" y="4">UniRef100_B5RUQ4</text></g>
<g transform="translate(0,1440)"><line class="c" x1="368.3" x2="507"/><line class="t" x1="368.5" x2="368.5" y1="-4.5" y2="4.5"/><use href="#a" x="507" class="c"/><text x="527" y="4">UniRef100_Q9ZPV7</text></g>
<g transform="translate(0,1451)"><line class="n" x1="10" x2="527"/><line class="c" x1="368.3" x2="507"/><line class="t" x1="368.5" x2="368.5" y1="-4.5" y2="4.5"/><use href="#a" x="507" class="c"/><text x="527" y="4">UniRef100_Q3EBY2</text></g>
<g transform="translate(0,1462)"><line class="c" x1="351.3" x2="502"/><line class="t" x1="351.5" x2="351.5" y1="-4.5" y2="4.5"/><use href="#a" x="502" class="c"/><text x="527" y="4">UniRef100_Q75ET0</text></g>
<g transform="translate(0,1473)"><line class="n" x1="10" x2="527"/><line class="c" x1="360.3" x2="507"/><line class="t" x1="360.5" x2="360.5" y1="-4.5" y2="4.5"/><use href="#a" x="507" class="c"/><text x="527" y="4">UniRef100_A7TEQ1</text></g>
<g transform="translate(0,1484)"><line class="c" x1="348.3" x2="507"/><line class="t" x1="348.5" x2="348.5" y1="-4.5" y2="4.5"/><use href="#a" x="507" class="c"/><text x="527" y="4">UniRef100_C5K6E8</text></g>
<g transform="translate(0,1495)"><line class="n" x1="10" x2="527"/><line class="g" x1="360.3" x2="507"/><line class="t" x1="360.5" x2="360.5" y1="-4.5" y2="4.5"/><use href="#a" x="507" class="g"/><text x="527" y="4">UniRef100_C4QVM5</text></g>
<g transform="translate(0,1506)"><line class="g" x1="331.3" x2="507"/><line class="t" x1="331.5" x2="331.5" y1="-4.5" y2="4.5"/><use href="#a" x="507" class="g"/><text x="527" y="4">UniRef100_C4WUK6</text></g>
<g transform="translate(0,1517)"><line class="n" x1="10" x2="527"/><line class="g" x1="351.3" x2="507"/><line class="t" x1="351.5" x2="351.5" y1="-4.5" y2="4.5"/><use href="#a" x="507" class="g"/><text x="527" y="4">UniRef100_B6K6R4</text></g>
<g transform="translate(0,1528)"><line class="c" x1="360.3" x2="507"/><line class="t" x1="360.5" x2="360.5" y1="-4.5" y2="4.5"/><use href="#a" x="507" class="c"/><text x="527" y="4">UniRef100_A5E5X0</text></g>
<g transform="translate(0,1539)"><line class="n" x1="10" x2="527"/><line class="g" x1="340.3" x2="507"/><line class="t" x1="340.5" x2="340.5" y1="-4.5" y2="4.5"/><use href="#a" x="507" class="g"/><text x="527" y="4">UniRef100_P52879</text></g>
<g transform="translate(0,1550)"><line class="g" x1="360.3" x2="505"/><line class="t" x1="360.5" x2="360.5" y1="-4.5" y2="4.5"/><use href="#a" x="505" class="g"/><text x="527" y="4">UniRef100_B7FVS9</text></g>
<g transform="translate(0,1561)"><line class="n" x1="10" x2="527"/><line class="g" x1="340.3" x2="507"/><line class="t" x1="340.5" x2="340.5" y1="-4.5" y2="4.5"/><use href="#a" x="507" class="g"/><text x="527" y="4">UniRef100_C4WUK5</text></g>
<g transform="translate(0,1572)"><line class="c" x1="346.3" x2="507"/><line class="t" x1="346.5" x2="346.5" y1="-4.5" y2="4.5"/><use href="#a" x="507" class="c"/><text x="527" y="4">UniRef100_UPI000..</text></g>
<g transform="translate(0,1583)"><line class="n" x1="10" x2="527"/><line class="g" x1="348.3" x2="507"/><line class="t" x1="348.5" x2="348.5" y1="-4.5" y2="4.5"/><use href="#a" x="507" class="g"/><text x="527" y="4">UniRef100_C5LLU2</text></g>
<g transform="translate(0,1594)"><line class="g" x1="340.3" x2="507"/><line class="t" x1="340.5" x2="340.5" y1="-4.5" y2="4.5"/><use href="#a" x="507" class="g"/><text x="527" y="4">UniRef100_A8WSL6</text></g>
<g transform="translate(0,1605)"><line class="n" x1="10" x2="527"/><line class="g" x1="340.3" x2="507"/><line class="t" x1="340.5" x2="340.5" y1="-4.5" y2="4.5"/><use href="#a" x="507" class="g"/><text x="527" y="4">UniRef100_UPI000..</text></g>
<g transform="translate(0,1616)"><line class="c" x1="360.3" x2="507"/><line class="t" x1="360.5" x2="360.5" y1="-4.5" y2="4.5"/><use href="#a" x="507" class="c"/><text x="527" y="4">UniRef100_C1BZP3</text></g>
<g transform="translate(0,1627)"><line class="n" x1="10" x2="527"/><line class="c" x1="360.3" x2="507"/><line class="t" x1="360.5" x2="360.5" y1="-4.5" y2="4.5"/><use href="#a" x="507" class="c"/><text x="527" y="4">UniRef100_C1BJ27</text></g>
<g transform="translate(0,1638)"><line class="c" x1="360.3" x2="507"/><line class="t" x1="360.5" x2="360.5" y1="-4.5" y2="4.5"/><use href="#a" x="507" class="c"/><text x="527" y="4">UniRef100_C1BEY5</text></g>
<g transform="translate(0,1649)"><line class="n" x1="10" x2="527"/><line class="c" x1="360.3" x2="507"/><line class="t" x1="360.5" x2="360.5" y1="-4.5" y2="4.5"/><use href="#a" x="507" class="c"/><text x="527" y="4">UniRef100_B9EPU1</text></g>
<g transform="translate(0,1660)"><line class="g" x1="317.3" x2="507"/><line class="t" x1="317.5" x2="317.5" y1="-4.5" y2="4.5"/><use href="#a" x="507" class="g"/><text x="527" y="4">UniRef100_B3P6N6</text></g>
<g transform="translate(0,1671)"><line class="n" x1="10" x2="527"/><line class="g" x1="360.3" x2="507"/><line class="t" x1="360.5" x2="360.5" y1="-4.5" y2="4.5"/><use href="#a" x="507" class="g"/><text x="527" y="4">UniRef100_Q6CFF7</text></g>
<g transform="translate(0,1682)"><line class="g" x1="348.3" x2="507"/><line class="t" x1="348.5" x2="348.5" y1="-4.5" y2="4.5"/><use href="#a" x="507" class="g"/><text x="527" y="4">UniRef100_Q5KPE9</text></g>
<g transform="translate(0,1693)"><line class="n" x1="10" x2="527"/><line class="c" x1="360.3" x2="507"/><line class="t" x1="360.5" x2="360.5" y1="-4.5" y2="4.5"/><use href="#a" x="507" class="c"/><text x="527" y="4">UniRef100_C4Q2E2</text></g>
<g transform="translate(0,1704)"><line class="c" x1="360.3" x2="507"/><line class="t" x1="360.5" x2="360.5" y1="-4.5" y2="4.5"/><use href="#a" x="507" class="c"/><text x="527" y="4">UniRef100_C4Q2E1</text></g>
<g transform="translate(0,1715)"><line class="n" x1="10" x2="527"/><line class="g" x1="360.3" x2="507"/><line class="t" x1="360.5" x2="360.5" y1="-4.5" y2="4.5"/><use href="#a" x="507" class="g"/><text x="527" y="4">UniRef100_UPI000..</text></g>
<g transform="translate(0,1726)"><line class="g" x1="360.3" x2="507"/><line class="t" x1="360.5" x2="360.5" y1="-4.5" y2="4.5"/><use href="#a" x="507" class="g"/><text x="527" y="4">UniRef100_Q6FXM1</text></g>
<g transform="translate(0,1737)"><line class="n" x1="10" x2="527"/><line class="g" x1="317.3" x2="507"/><line class="t" x1="317.5" x2="317.5" y1="-4.5" y2="4.5"/><use href="#a" x="507" class="g"/><text x="527" y="4">UniRef100_Q9VBU6</text></g>
<g transform="translate(0,1748)"><line class="c" x1="360.3" x2="507"/><line class="t" x1="360.5" x2="360.5" y1="-4.5" y2="4.5"/><use href="#a" x="507" class="c"/><text x="527" y="4">UniRef100_Q5DE62</text></g>
<g transform="translate(0,1759)"><line class="n" x1="10" x2="527"/><line class="g" x1="317.3" x2="507"/><line class="t" x1="317.5" x2="317.5" y1="-4.5" y2="4.5"/><use href="#a" x="507" class="g"/><text x="527" y="4">UniRef100_B4PUA2</text></g>
<g transform="translate(0,1770)"><line class="g" x1="317.3" x2="507"/><line class="t" x1="317.5" x2="317.5" y1="-4.5" y2="4.5"/><use href="#a" x="507" class="g"/><text x="527" y="4">UniRef100_B4QUR7</text></g>
<g transform="translate(0,1781)"><line class="n" x1="10" x2="527"/><line class="g" x1="357.3" x2="505"/><line class="t" x1="357.5" x2="357.5" y1="-4.5" y2="4.5"/><use href="#a" x="505" class="g"/><text x="527" y="4">UniRef100_Q10358</text></g>
<g transform="translate(0,1792)"><line class="g" x1="354.3" x2="507"/><line class="t" x1="354.5" x2="354.5" y1="-4.5" y2="4.5"/><use href="#a" x="507" class="g"/><text x="527" y="4">UniRef100_UPI000..</text></g>
<g transform="translate(0,1803)"><line class="n" x1="10" x2="527"/><line class="g" x1="323.3" x2="507"/><line class="t" x1="323.5" x2="323.5" y1="-4.5" y2="4.5"/><use href="#a" x="507" class="g"/><text x="527" y="4">UniRef100_B7Z0Q3</text></g>
<g transform="translate(0,1814)"><line class="g" x1="357.3" x2="507"/><line class="t" x1="357.5" x2="357.5" y1="-4.5" y2="4.5"/><use href="#a" x="507" class="g"/><rect x="486" y="3" width="3" height="2" fill="#ffff80"/><text x="527" y="4">UniRef100_C0SJ16</text></g>
<g transform="translate(0,1825)"><line class="n" x1="10" x2="527"/><line class="g" x1="351.3" x2="507"/><line class="t" x1="351.5" x2="351.5" y1="-4.5" y2="4.5"/><use href="#a" x="507" class="g"/><rect x="461" y="3" width="3" height="2" fill="#ffff80"/><text x="527" y="4">UniRef100_UPI000..</text></g>
<g transform="translate(0,1836)"><line class="g" x1="360.3" x2="507"/><line class="t" x1="360.5" x2="360.5" y1="-4.5" y2="4.5"/><use href="#a" x="507" class="g"/><text x="527" y="4">UniRef100_Q7PV51</text></g>
<g transform="translate(0,1847)"><line class="n" x1="10" x2="527"/><line class="g" x1="360.3" x2="507"/><line class="t" x1="360.5" x2="360.5" y1="-4.5" y2="4.5"/><use href="#a" x="507" class="g"/><text x="527" y="4">UniRef100_Q16T78</text></g>
<g transform="translate(0,1858)"><line class="g" x1="351.3" x2="493"/><line class="t" x1="351.5" x2="351.5" y1="-4.5" y2="4.5"/><use href="#a" x="493" class="g"/><text x="527" y="4">UniRef100_B7Q912</text></g>
<g transform="translate(0,1869)"><line class="n" x1="10" x2="527"/><line class="g" x1="331.3" x2="507"/><line class="t" x1="331.5" x2="331.5" y1="-4.5" y2="4.5"/><use href="#a" x="507" class="g"/><rect x="461" y="3" width="3" height="2" fill="#ffff80"/><text x="527" y="4">UniRef100_B4KDP5</text></g>
<g transform="translate(0,1880)"><line class="g" x1="360.3" x2="507"/><line class="t" x1="360.5" x2="360.5" y1="-4.5" y2="4.5"/><use href="#a" x="507" class="g"/><text x="527" y="4">UniRef100_Q54D10</text></g>
<g transform="translate(0,1891)"><line class="n" x1="10" x2="527"/><line class="g" x1="323.3" x2="507"/><line class="t" x1="323.5" x2="323.5" y1="-4.5" y2="4.5"/><use href="#a" x="507" class="g"/><text x="527" y="4">UniRef100_B3LWJ5</text></g>
<g transform="translate(0,1902)"><line class="g" x1="348.3" x2="507"/><line class="t" x1="348.5" x2="348.5" y1="-4.5" y2="4.5"/><use href="#a" x="507" class="g"/><text x="527" y="4">UniRef100_C5LLU5</text></g>
<g transform="translate(0,1913)"><line class="n" x1="10" x2="527"/><line class="g" x1="360.3" x2="507"/><line class="t" x1="360.5" x2="360.5" y1="-4.5" y2="4.5"/><use href="#a" x="507" class="g"/><text x="527" y="4">UniRef100_B4NIV1</text></g>
<g transform="translate(0,1924)"><line class="g" x1="323.3" x2="507"/><line class="t" x1="323.5" x2="323.5" y1="-4.5" y2="4.5"/><use href="#a" x="507" class="g"/><text x="527" y="4">UniRef100_B4M5G1</text></g>
<g transform="translate(0,1935)"><line class="n" x1="10" x2="527"/><line class="g" x1="360.3" x2="507"/><line class="t" x1="360.5" x2="360.5" y1="-4.5" y2="4.5"/><use href="#a" x="507" class="g"/><text x="527" y="4">UniRef100_B4JSL5</text></g>
<g transform="translate(0,1946)"><line class="g" x1="360.3" x2="505"/><line class="t" x1="360.5" x2="360.5" y1="-4.5" y2="4.5"/><use href="#a" x="505" class="g"/><text x="527" y="4">UniRef100_C4M1N3</text></g>
<g transform="translate(0,1957)"><line class="n" x1="10" x2="527"/><line class="g" x1="360.3" x2="507"/><line class="t" x1="360.5" x2="360.5" y1="-4.5" y2="4.5"/><use href="#a" x="507" class="g"/><text x="527" y="4">UniRef100_Q296L6</text></g>
<g transform="translate(0,1968)"><line class="g" x1="331.3" x2="507"/><line class="t" x1="331.5" x2="331.5" y1="-4.5" y2="4.5"/><use href="#a" x="507" class="g"/><text x="527" y="4">UniRef100_Q86FF2</text></g>
<g transform="translate(0,1979)"><line class="n" x1="10" x2="527"/><line class="c" x1="357.3" x2="502"/><line class="t" x1="357.5" x2="357.5" y1="-4.5" y2="4.5"/><use href="#a" x="502" class="c"/><text x="527" y="4">UniRef100_A7AMF7</text></g>
<g transform="translate(0,1990)"><line class="g" x1="360.3" x2="505"/><line class="t" x1="360.5" x2="360.5" y1="-4.5" y2="4.5"/><use href="#a" x="505" class="g"/><text x="527" y="4">UniRef100_B0EF55</text></g>
<g transform="translate(0,2001)"><line class="n" x1="10" x2="527"/><line class="g" x1="346.3" x2="507"/><line class="t" x1="346.5" x2="346.5" y1="-4.5" y2="4.5"/><use href="#a" x="507" class="g"/><text x="527" y="4">UniRef100_C4QNI1</text></g>
<g transform="translate(0,2012)"><line class="g" x1="357.3" x2="507"/><line class="t" x1="357.5" x2="357.5" y1="-4.5" y2="4.5"/><use href="#a" x="507" class="g"/><text x="527" y="4">UniRef100_Q8I3B7</text></g>
<g transform="translate(0,2023)"><line class="n" x1="10" x2="527"/><line class="g" x1="351.3" x2="507"/><line class="t" x1="351.5" x2="351.5" y1="-4.5" y2="4.5"/><use href="#a" x="507" class="g"/><text x="527" y="4">UniRef100_Q4D9J0</text></g>
<g transform="translate(0,2034)"><line class="g" x1="351.3" x2="507"/><line class="t" x1="351.5" x2="351.5" y1="-4.5" y2="4.5"/><use href="#a" x="507" class="g"/><text x="527" y="4">UniRef100_Q4CLA0</text></g>
<g transform="translate(0,2045)"><line class="n" x1="10" x2="527"/><line class="g" x1="320.3" x2="507"/><line class="t" x1="320.5" x2="320.5" y1="-4.5" y2="4.5"/><use href="#a" x="507" class="g"/><text x="527" y="4">UniRef100_A5K6A2</text></g>
<g transform="translate(0,2056)"><line class="g" x1="320.3" x2="493"/><line class="t" x1="320.5" x2="320.5" y1="-4.5" y2="4.5"/><use href="#a" x="493" class="g"/><text x="527" y="4">UniRef100_B3L341</text></g>
<g transform="translate(0,2067)"><line class="n" x1="10" x2="527"/><line class="g" x1="357.3" x2="507"/><line class="t" x1="357.5" x2="357.5" y1="-4.5" y2="4.5"/><use href="#a" x="507" class="g"/><text x="527" y="4">UniRef100_Q4YZV4</text></g>
<g transform="translate(0,2078)"><line class="g" x1="360.3" x2="507"/><line class="t" x1="360.5" x2="360.5" y1="-4.5" y2="4.5"/><use href="#a" x="507" class="g"/><text x="527" y="4">UniRef100_C9ZRM1</text></g>
<g transform="translate(0,2089)"><line class="n" x1="10" x2="527"/><line class="g" x1="377.3" x2="507"/><line class="t" x1="377.5" x2="377.5" y1="-4.5" y2="4.5"/><use href="#a" x="507" class="g"/><text x="527" y="4">UniRef100_Q7RNJ3</text></g>
<g transform="translate(0,2100)"><line class="g" x1="368.3" x2="507"/><line class="t" x1="368.5" x2="368.5" y1="-4.5" y2="4.5"/><use href="#a" x="507" class="g"/><text x="527" y="4">UniRef100_Q4UBB4</text></g>
<g transform="translate(0,2111)"><line class="n" x1="10" x2="527"/><line class="g" x1="346.7" x2="507"/><line class="t" x1="346.5" x2="346.5" y1="-4.5" y2="4.5"/><use href="#a" x="507" class="g"/><text x="527" y="4">UniRef100_A4HZT5</text></g>
<g transform="translate(0,2122)"><line class="g" x1="360.3" x2="480"/><line class="t" x1="360.5" x2="360.5" y1="-4.5" y2="4.5"/><use href="#a" x="480" class="g"/><text x="527" y="4">UniRef100_A2FCE5</text></g>
<g transform="translate(0,2133)"><line class="n" x1="10" x2="527"/><line class="g" x1="346.7" x2="507"/><line class="t" x1="346.5" x2="346.5" y1="-4.5" y2="4.5"/><use href="#a" x="507" class="g"/><text x="527" y="4">UniRef100_Q4QBT9</text></g>
<g transform="translate(0,2144)"><line class="g" x1="377.3" x2="507"/><line class="t" x1="377.5" x2="377.5" y1="-4.5" y2="4.5"/><use href="#a" x="507" class="g"/><text x="527" y="4">UniRef100_Q4MZ26</text></g>
<g transform="translate(0,2155)"><line class="n" x1="10" x2="527"/><line class="m" x1="348.7" x2="507"/><line class="t" x1="348.5" x2="348.5" y1="-4.5" y2="4.5"/><use href="#a" x="507" class="m"/><rect x="479" y="4" width="3" height="2" fill="#ffff80"/><text x="527" y="4">UniRef100_Q4P895</text></g>
<g transform="translate(0,2166)"><line class="g" x1="375.7" x2="423"/><line class="c" x1="424" x2="507"/><line class="t" x1="375.5" x2="375.5" y1="-4.5" y2="4.5"/><line class="t" x1="423.5" x2="423.5" y1="-4.5" y2="4.5"/><use href="#a" x="507" class="c"/><text x="527" y="4">UniRef100_B6QP17</text></g>
<g transform="translate(0,2177)"><line class="n" x1="10" x2="527"/><line class="g" x1="383.3" x2="507"/><line class="t" x1="383.5" x2="383.5" y1="-4.5" y2="4.5"/><use href="#a" x="507" class="g"/><text x="527" y="4">UniRef100_Q4S835</text></g>
<text x="8" y="2200" style="font-size:10px">Large gaps: <tspan style="fill:#ffff80">▲</tspan>(in Query)/<tspan style="fill:#00a000">−</tspan> (in Subject)</text>
<line x1="438" x2="456" y1="2196" y2="2196" stroke="#00c4c4" stroke-width="3"/>
<line x1="438.5" x2="438.5" y1="2191" y2="2201" stroke="#363610"/>
<line x1="456.5" x2="456.5" y1="2191" y2="2201" stroke="#363610"/>
<text x="460" y="2200">=100char.</text>
</svg>
</body></html>
